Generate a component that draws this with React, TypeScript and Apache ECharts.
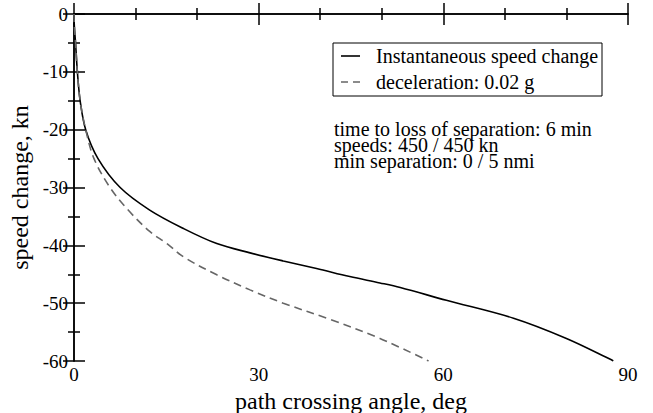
import React, { useEffect, useRef } from "react";
import * as echarts from "echarts";

const instantX = [0, 0.05, 0.25, 0.55, 1.0, 1.9, 3.9, 7.5, 12.3, 17.8, 23.2, 28.6, 34, 39.4, 44.8, 49.7, 53, 60.5, 71.4, 80, 87.3, 87.6];
const instantY = [0, -2, -5, -10, -15, -20, -25, -30, -33.9, -37.1, -39.7, -41.3, -42.7, -44.0, -45.4, -46.5, -47.3, -49.5, -52.6, -56.1, -59.8, -60];
const decelX = [0, 0.05, 0.25, 0.55, 1.0, 1.9, 3.25, 5.85, 8.8, 12.3, 15.1, 17.8, 23.2, 28.6, 34, 41.6, 49.7, 57.6];
const decelY = [0, -2, -5, -10, -15, -20, -25, -30, -33.9, -37.6, -39.7, -42.0, -45.1, -47.7, -50.0, -52.8, -56.1, -60];

const legendNames = ["Instantaneous speed change", "deceleration: 0.02 g"];
const notes = ["time to loss of separation: 6 min", "speeds: 450 / 450 kn", "min separation: 0 / 5 nmi"];

const FONT = "Liberation Serif";

export default function App() {
  const ref = useRef<HTMLDivElement>(null);
  useEffect(() => {
    const chart = echarts.init(ref.current!, undefined, { renderer: "svg" });
    const axisLine = { show: true, lineStyle: { color: "#000", width: 1.5 } };
    const xBase = {
      type: "value",
      min: 0,
      max: 90,
      interval: 30,
      axisLine,
      axisTick: { show: true, inside: true, length: 11, lineStyle: { color: "#000", width: 1.5 } },
      minorTick: { show: true, splitNumber: 3, length: 6, lineStyle: { color: "#000", width: 1.5 } },
      splitLine: { show: false },
    };
    const yBase = {
      type: "value",
      min: -60,
      max: 0,
      interval: 10,
      axisLine,
      axisTick: { show: true, inside: true, length: 11, lineStyle: { color: "#000", width: 1.5 } },
      minorTick: { show: true, splitNumber: 2, length: 6, lineStyle: { color: "#000", width: 1.5 } },
      splitLine: { show: false },
    };
    const labelStyle = { color: "#000", fontFamily: FONT, fontSize: 19 };
    chart.setOption({
      animation: false,
      backgroundColor: "#fff",
      grid: { left: 74, top: 14, right: 25, bottom: 52, containLabel: false, outerBoundsMode: "none" },
      xAxis: [
        {
          ...xBase,
          position: "bottom",
          axisLabel: { ...labelStyle, margin: 4 },
          name: "path crossing angle, deg",
          nameLocation: "middle",
          nameGap: 26,
          nameTextStyle: { color: "#000", fontFamily: FONT, fontSize: 24 },
        },
        { ...xBase, position: "top", axisLabel: { show: false } },
      ],
      yAxis: [
        {
          ...yBase,
          position: "left",
          axisLabel: { ...labelStyle, margin: 6 },
          name: "speed change, kn",
          nameLocation: "middle",
          nameGap: 42,
          nameTextStyle: { color: "#000", fontFamily: FONT, fontSize: 24 },
        },
        { ...yBase, position: "right", axisLabel: { show: false } },
      ],
      series: [
        {
          type: "line",
          name: legendNames[0],
          data: instantX.map((x, i) => [x, instantY[i]]),
          showSymbol: false,
          smooth: 0.35,
          clip: true,
          lineStyle: { color: "#000", width: 1.6 },
        },
        {
          type: "line",
          name: legendNames[1],
          data: decelX.map((x, i) => [x, decelY[i]]),
          showSymbol: false,
          smooth: 0.35,
          clip: true,
          lineStyle: { color: "#666", width: 1.6, type: [8, 5] },
        },
      ],
      graphic: [
        { type: "rect", shape: { x: 333, y: 43, width: 269, height: 53 }, style: { fill: "#fff", stroke: "#000", lineWidth: 1 }, z: 10 },
        { type: "line", shape: { x1: 341, y1: 56, x2: 360, y2: 56 }, style: { stroke: "#000", lineWidth: 1.6 }, z: 11 },
        { type: "line", shape: { x1: 341, y1: 82, x2: 360, y2: 82 }, style: { stroke: "#666", lineWidth: 1.6, lineDash: [7, 5] }, z: 11 },
        { type: "text", x: 376, y: 56, style: { text: legendNames[0], font: `20px "${FONT}"`, fill: "#000", verticalAlign: "middle" }, z: 11 },
        { type: "text", x: 376, y: 82, style: { text: legendNames[1], font: `20px "${FONT}"`, fill: "#000", verticalAlign: "middle" }, z: 11 },
        {
          type: "text",
          x: 334,
          y: 121,
          style: { text: notes.join("\n"), font: `20px "${FONT}"`, lineHeight: 16, fill: "#000", verticalAlign: "top" },
          z: 11,
        },
      ],
    });
    return () => chart.dispose();
  }, []);
  return <div ref={ref} style={{ width: 653, height: 413, position: "absolute", left: 0, top: 0 }} />;
}
